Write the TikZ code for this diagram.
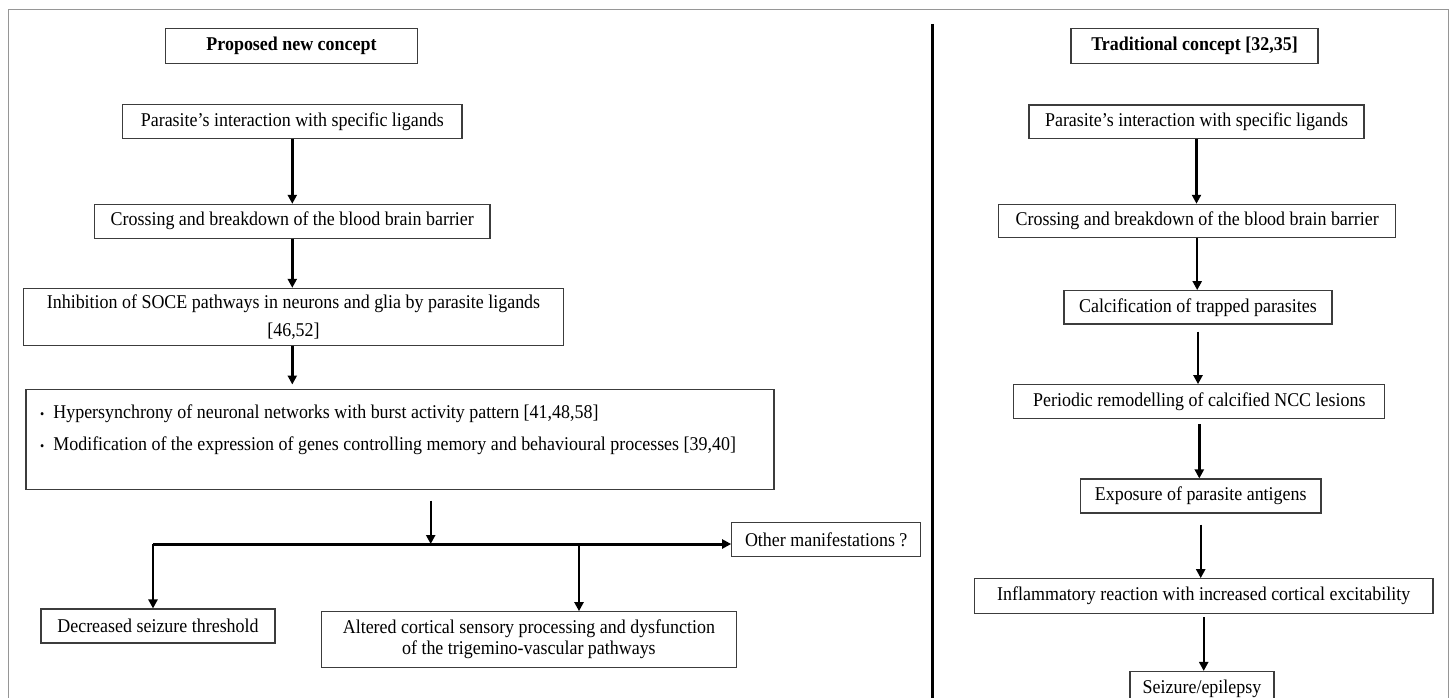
\documentclass[tikz,border=0pt]{standalone}
\usepackage{fontspec}
\setmainfont{Liberation Serif}[FakeStretch=0.92]
\usetikzlibrary{arrows.meta}
\definecolor{boxgray}{RGB}{60,60,60}
\definecolor{framegray}{RGB}{150,150,150}
\begin{document}
\begin{tikzpicture}[x=1pt,y=-1pt,
  box/.style={draw=boxgray, line width=1.1pt, inner sep=0pt, align=center,
    font=\fontsize{19.5}{21}\selectfont, text=black},
  titlebox/.style={box, font=\bfseries\fontsize{19.5}{21}\selectfont},
  arr/.style={line width=2.4pt, draw=black, -{Triangle[length=9pt,width=9pt]}},
  thick line/.style={line width=3pt, draw=black}]
\useasboundingbox (0,0) rectangle (1453,698);
\clip (0,0) rectangle (1453,698);
% outer frame and divider
\draw[framegray, line width=1pt] (8.3,705) -- (8.3,10) -- (1448,10) -- (1448,705);
\draw[black, line width=3.2pt] (932.6,24) -- (932.6,705);

% ---------- left column ----------
\node[titlebox, minimum width=251.6pt, minimum height=34.6pt] (lt) at (291.5,46) {Proposed new concept};
\node[box, minimum width=339.3pt, minimum height=33.6pt] (l1) at (292.3,121.5) {Parasite’s interaction with specific ligands};
\node[box, minimum width=395.3pt, minimum height=33.7pt] (l2) at (292.3,221.2) {Crossing and breakdown of the blood brain barrier};
\node[box, minimum width=540pt, minimum height=56.7pt] (l3) at (293.5,316.7) {Inhibition of SOCE pathways in neurons and glia by parasite ligands\\[7pt]{[46,52]}};
\node[box, minimum width=748pt, minimum height=100.3pt] (l4) at (400,439.2) {};
\node[anchor=west, inner sep=0pt, align=left, font=\fontsize{19.5}{22}\selectfont] (l4t) at (40,429.5)
  {{\fontsize{13}{13}\selectfont\textbullet}\hspace{9pt}Hypersynchrony of neuronal networks with burst activity pattern [41,48,58]\\[10.4pt]
   {\fontsize{13}{13}\selectfont\textbullet}\hspace{9pt}Modification of the expression of genes controlling memory and behavioural processes [39,40]};
\node[box, minimum width=189pt, minimum height=34pt] (other) at (826.2,539.7) {Other manifestations ?};
\node[box, minimum width=234pt, minimum height=34pt] (dec) at (158,626) {Decreased seizure threshold};
\node[box, minimum width=414.3pt, minimum height=56pt] (alt) at (528.9,639.7) {Altered cortical sensory processing and dysfunction\\of the trigemino-vascular pathways};

\coordinate (j) at (430.7,544);
\coordinate (c1) at (153,544);
\coordinate (c2) at (579,544);

\draw[arr] (l1.south) -- (l2.north);
\draw[arr] (l2.south) -- (l2.south |- l3.north);
\draw[arr, shorten >=4pt] (l2.south |- l3.south) -- (l2.south |- l4.north);
\draw[arr, shorten <=10.7pt] (l4.south -| j) -- (j);
\draw[thick line] (c1) -- (c2);
\draw[line width=3pt, -{Triangle[length=9pt,width=9pt]}] (c2) -- (c1 -| other.west);
\draw[arr] (c1) -- (dec.north -| c1);
\draw[arr] (c2) -- (alt.north -| c2);

% ---------- right column ----------
\node[titlebox, minimum width=247pt, minimum height=34.6pt] (rt) at (1194.5,46) {Traditional concept [32,35]};
\node[box, minimum width=335pt, minimum height=33.3pt] (r1) at (1196.5,121.7) {Parasite’s interaction with specific ligands};
\node[box, minimum width=397pt, minimum height=33.4pt] (r2) at (1197.2,221) {Crossing and breakdown of the blood brain barrier};
\node[box, minimum width=268pt, minimum height=33.3pt] (r3) at (1198,307.3) {Calcification of trapped parasites};
\node[box, minimum width=371pt, minimum height=34pt] (r4) at (1199.3,401.7) {Periodic remodelling of calcified NCC lesions};
\node[box, minimum width=240.5pt, minimum height=34pt] (r5) at (1200.7,496) {Exposure of parasite antigens};
\node[box, minimum width=458.5pt, minimum height=35pt] (r6) at (1203.7,596.2) {Inflammatory reaction with increased cortical excitability};
\node[box, minimum width=144pt, minimum height=34pt] (r7) at (1202,688.5) {Seizure/epilepsy};

\draw[arr] (r1.south) -- (r1.south |- r2.north);
\draw[arr] (r2.south) -- (r2.south |- r3.north);
\draw[arr, shorten <=7pt] (r3.south) -- (r3.south |- r4.north);
\draw[arr, shorten <=5pt] (r4.south) -- (r4.south |- r5.north);
\draw[arr, shorten <=11pt] (r5.south) -- (r5.south |- r6.north);
\draw[arr, shorten <=3pt] (r6.south) -- (r6.south |- r7.north);
\end{tikzpicture}
\end{document}
